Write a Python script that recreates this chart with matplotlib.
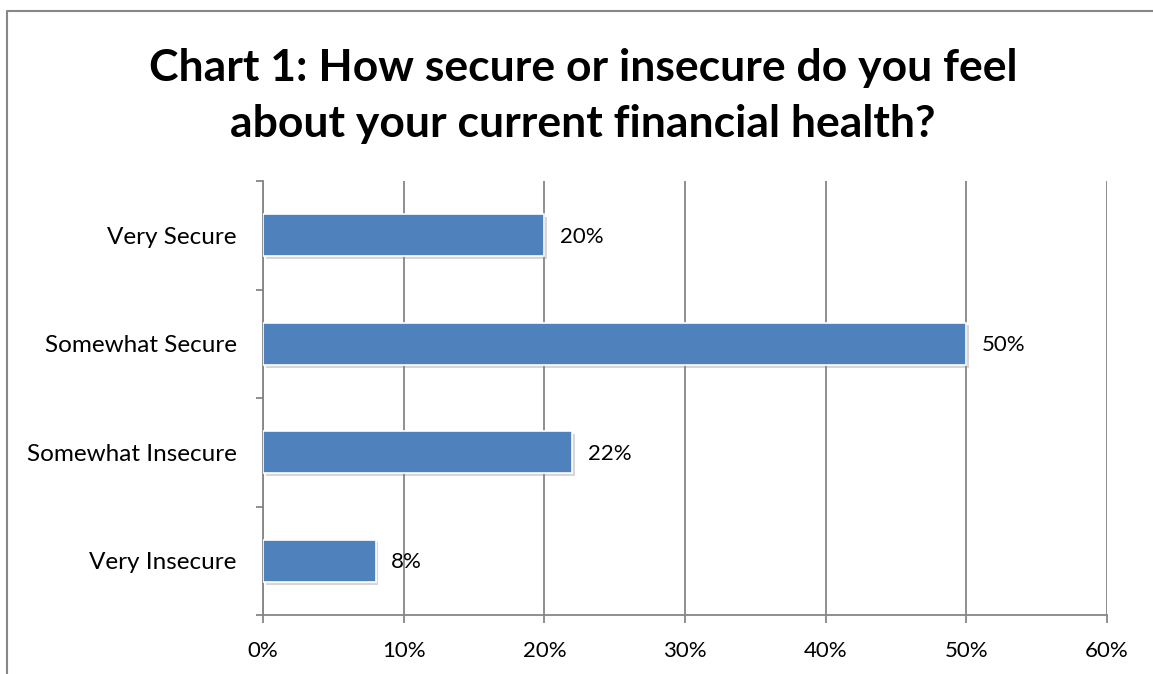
import matplotlib.pyplot as plt
import matplotlib.patheffects as pe
from matplotlib.lines import Line2D
from matplotlib.ticker import FixedLocator, FuncFormatter

plt.rcParams['font.family'] = ['Lato', 'DejaVu Sans']

categories = ['Very Secure', 'Somewhat Secure', 'Somewhat Insecure', 'Very Insecure']
shares = [20, 50, 22, 8]
x_ticks = [0, 10, 20, 30, 40, 50, 60]

W, H = 1153, 674
fig = plt.figure(figsize=(W / 100, H / 100), dpi=100)
ax = fig.add_axes([263 / W, 1 - 615 / H, (1107 - 263) / W, (615 - 181) / H])

grid_col = '#868686'
bar_col = '#4F81BD'

ypos = list(range(len(categories)))
bars = ax.barh(ypos, shares, height=0.39, color=bar_col, edgecolor='white',
               linewidth=1.2, zorder=3)
for b in bars:
    b.set_path_effects([pe.SimplePatchShadow(offset=(2, -2), shadow_rgbFace='#8f8f8f',
                                             alpha=0.35), pe.Normal()])

for y, v in zip(ypos, shares):
    ax.annotate(f'{v}%', xy=(v, y), xytext=(11, -1), textcoords='offset points',
                va='center', ha='left', fontsize=16, color='black')

ax.set_xlim(0, 60)
ax.set_ylim(len(categories) - 0.5, -0.5)
ax.xaxis.set_major_locator(FixedLocator(x_ticks))
ax.xaxis.set_major_formatter(FuncFormatter(lambda v, p: f'{v:.0f}%'))
ax.set_yticks(ypos)
ax.set_yticklabels(categories)
ax.set_yticks([i - 0.5 for i in range(len(categories) + 1)], minor=True)

ax.grid(axis='x', color=grid_col, linewidth=1.3, zorder=0)
ax.set_axisbelow(True)
for side in ['top', 'right']:
    ax.spines[side].set_visible(False)
for side in ['left', 'bottom']:
    ax.spines[side].set_color(grid_col)
    ax.spines[side].set_linewidth(1.3)

ax.tick_params(axis='y', which='major', length=0, pad=19, labelsize=17.5)
ax.tick_params(axis='y', which='minor', length=5, width=1.3, color=grid_col)
ax.tick_params(axis='x', length=6, width=1.3, color=grid_col, pad=13, labelsize=16)

fig.text(583 / W, 1 - 96 / H, 'Chart 1: How secure or insecure do you feel\nabout your current financial health?',
         ha='center', va='center', fontsize=32, fontweight='bold', linespacing=1.5)

# chart frame
fig.add_artist(Line2D([7 / W, 7 / W, 1], [0, 1 - 10.5 / H, 1 - 10.5 / H],
                      transform=fig.transFigure, color='#878787', linewidth=1.5))

fig.savefig('out.png', dpi=100)
